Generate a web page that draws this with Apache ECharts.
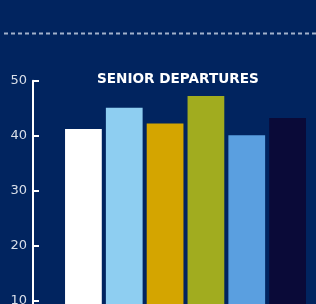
<!DOCTYPE html>
<html>
<head>
<meta charset="utf-8">
<script src="https://cdn.jsdelivr.net/npm/echarts@6/dist/echarts.min.js"></script>
<style>
html, body { margin: 0; padding: 0; background: #01245f; }
#chart { width: 316px; height: 304px; }
</style>
</head>
<body>
<div id="chart"></div>
<script>
var categories = ['A', 'B', 'C', 'D', 'E', 'F'];
var values = [41.2, 45.1, 42.2, 47.2, 40.1, 43.2];
var barColors = ['#ffffff', '#8ecef1', '#d4a500', '#a1ac1f', '#5a9fe0', '#0a0a38'];
var yTicks = [0, 50, 10];

var myChart = echarts.init(document.getElementById('chart'));
var option = {
    backgroundColor: '#01245f',
    animation: false,
    title: {
        text: 'SENIOR DEPARTURES',
        left: 97,
        top: 72,
        padding: 0,
        textStyle: {
            color: '#ffffff',
            fontFamily: 'DejaVu Sans',
            fontWeight: 'bold',
            fontSize: 13.6
        }
    },
    graphic: [{
        type: 'line',
        shape: { x1: 4, y1: 33.5, x2: 316, y2: 33.5 },
        style: { stroke: '#a3b1cb', lineWidth: 2, lineDash: [4, 3] }
    }],
    grid: { left: 63, top: 80.7, width: 245, height: 275, outerBoundsMode: 'none', containLabel: false },
    xAxis: {
        type: 'category',
        data: categories,
        show: false
    },
    yAxis: {
        type: 'value',
        min: yTicks[0],
        max: yTicks[1],
        interval: yTicks[2],
        offset: 30,
        axisLine: { show: true, lineStyle: { color: '#ffffff', width: 2 } },
        axisTick: { show: true, inside: true, length: 6, lineStyle: { color: '#ffffff', width: 2 } },
        axisLabel: { color: '#d9dfe9', fontFamily: 'DejaVu Sans', fontSize: 13, margin: 6 },
        splitLine: { show: false }
    },
    series: [{
        type: 'bar',
        barCategoryGap: '10%',
        data: values.map(function (v, i) {
            return { value: v, itemStyle: { color: barColors[i] } };
        })
    }]
};
myChart.setOption(option, true);
</script>
</body>
</html>
